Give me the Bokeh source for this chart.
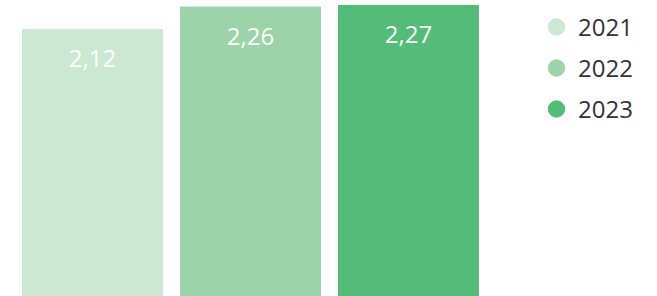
from bokeh.plotting import figure
from bokeh.models import ColumnDataSource, Range1d, Legend, LegendItem
from bokeh.core.properties import value
from bokeh.embed import file_html
from bokeh.resources import INLINE

years = ["2021", "2022", "2023"]
values = [2.12, 2.26, 2.27]
labels = ["2,12", "2,26", "2,27"]
colors = ["#cce7d2", "#9dd3a9", "#55bb78"]
positions = [0, 1, 2]

p = figure(width=657, height=296, output_backend="svg", toolbar_location=None,
           x_range=Range1d(-0.5823, 3.576), y_range=Range1d(0.451, 2.301),
           min_border=0, outline_line_color=None)
p.axis.visible = False
p.grid.visible = False
p.background_fill_color = "white"
p.border_fill_color = "white"

src = ColumnDataSource(dict(x=positions, top=values, label=labels, color=colors, year=years))
p.vbar(x="x", top="top", bottom=0, width=140 / 158, color="color", source=src)
p.text(x="x", y="top", text="label", source=src, text_color="white",
       text_font=value("Open Sans"), text_font_size="24px",
       text_align="center", text_baseline="alphabetic", y_offset=29)

items = []
for i, (yr, c) in enumerate(zip(years, colors)):
    r = p.scatter(x=[positions[i]], y=[0], marker="circle", size=17, color=c)
    items.append(LegendItem(label=yr, renderers=[r]))

legend = Legend(items=items, location=(535, 167), glyph_width=42, glyph_height=41,
                spacing=0, padding=0, margin=0, label_standoff=1,
                label_text_font="Open Sans", label_text_font_size="24px",
                label_text_color="#333333", border_line_color=None,
                background_fill_alpha=0)
p.add_layout(legend)

open("out.html", "w").write(file_html(p, INLINE))
